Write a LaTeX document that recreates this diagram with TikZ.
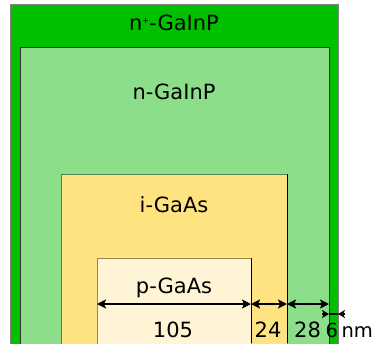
\documentclass[tikz,border=0pt]{standalone}
\usepackage{fontspec}
\setmainfont{DejaVu Sans}
\usetikzlibrary{arrows.meta}
\definecolor{dkgreen}{HTML}{00C000}
\definecolor{ltgreen}{HTML}{8CDE8A}
\definecolor{yel}{HTML}{FFE380}
\definecolor{cream}{HTML}{FFF4D6}
\tikzset{
  lbl/.style={font=\fontsize{21}{25}\selectfont, inner sep=0pt, anchor=base},
  dim/.style={line width=2.4pt, {Stealth[length=9pt,width=9pt,inset=2pt]}-{Stealth[length=9pt,width=9pt,inset=2pt]}},
  onetip/.style={line width=2pt, -{Stealth[length=7pt,width=8pt,inset=2pt]}}
}
\begin{document}
\begin{tikzpicture}[x=1pt,y=-1pt]
\useasboundingbox (0,0) rectangle (374,343);
\fill[dkgreen, draw=gray, line width=0.8pt] (10,4) rectangle (338,350);
\fill[ltgreen, draw=black!80, line width=0.8pt] (20,47) rectangle (329,350);
\fill[yel, draw=ltgreen!60!black, line width=0.6pt] (61,174) rectangle (287,350);
\draw[black, line width=0.8pt] (287,174) -- (287,343);
\fill[cream, draw=yel!60!black, line width=0.8pt] (97,258) rectangle (251,350);
\draw[black, line width=0.8pt] (251,258) -- (251,343);
\node[lbl] (np) at (174,30) {n\raisebox{0.55ex}{\fontsize{8}{8}\selectfont +}-GaInP};
\node[lbl] (n) at (174,99) {n-GaInP};
\node[lbl] (i) at (174,212) {i-GaAs};
\node[lbl] (p) at (174,293) {p-GaAs};
\coordinate (a0) at (97,304);
\coordinate (a1) at (251,304);
\coordinate (a2) at (287,304);
\coordinate (a3) at (329,304);
\draw[dim] (a0) -- (a1);
\draw[dim] (a1) -- (a2);
\draw[dim] (a2) -- (a3);
\coordinate (b0) at (322,314);
\coordinate (b1) at (329,314);
\coordinate (b2) at (338,314);
\coordinate (b3) at (345,314);
\draw[onetip] (b0) -- (b1);
\draw[onetip] (b3) -- (b2);
\draw[line width=1.5pt] (b1) -- (b2);
\node[lbl] (t105) at (173,337) {105};
\node[lbl] (t24) at (268,337) {24};
\node[lbl] (t28) at (307.5,337) {28};
\node[lbl, anchor=base west, font=\fontsize{19.5}{24}\selectfont] (t6) at (325.5,337) {6\hspace{3.5pt}nm};
\end{tikzpicture}
\end{document}
